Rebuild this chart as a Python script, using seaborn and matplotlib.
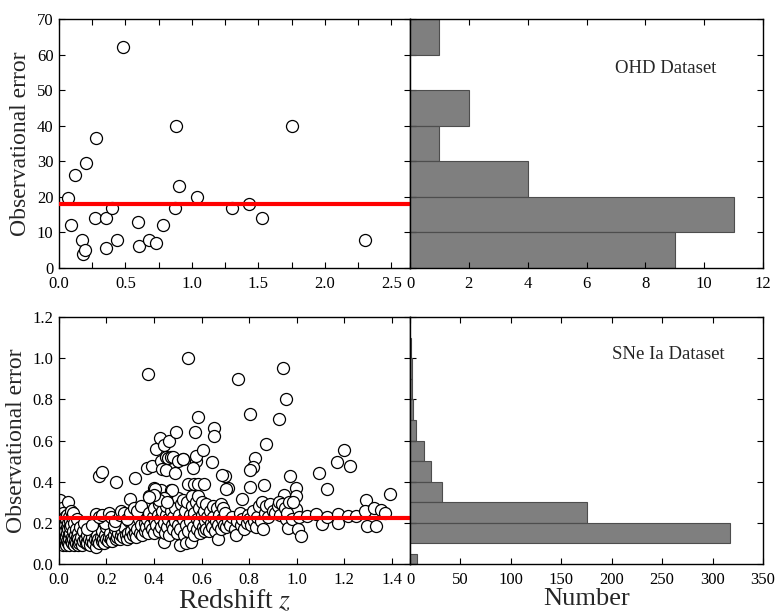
import numpy as np
import pandas as pd
import matplotlib
matplotlib.use("Agg")
import matplotlib.pyplot as plt
import seaborn as sns
from matplotlib.ticker import MultipleLocator, FormatStrFormatter

# ---------------- OHD (Hubble parameter) measurements ----------------
ohd_z = [0.07, 0.09, 0.12, 0.17, 0.179, 0.199, 0.20, 0.27, 0.28, 0.35,
         0.352, 0.40, 0.44, 0.48, 0.593, 0.60, 0.68, 0.73, 0.781, 0.875,
         0.88, 0.90, 1.037, 1.30, 1.43, 1.53, 1.75, 2.30]
ohd_err = [19.6, 12.0, 26.2, 8.0, 4.0, 5.0, 29.6, 14.0, 36.6, 5.5,
           14.0, 17.0, 7.8, 62.0, 13.0, 6.1, 8.0, 7.0, 12.0, 17.0,
           40.0, 23.0, 20.0, 17.0, 18.0, 14.0, 40.0, 8.0]
ohd_bins = [0, 10, 20, 30, 40, 50, 60, 70]

# ---------------- SNe Ia (redshift, distance-modulus error) ----------------
sn_nearby = [
    (0.004, 0.31), (0.006, 0.24), (0.008, 0.20), (0.009, 0.16), (0.010, 0.13),
    (0.011, 0.10), (0.012, 0.27), (0.013, 0.22), (0.014, 0.18), (0.015, 0.15),
    (0.016, 0.12), (0.017, 0.09), (0.018, 0.25), (0.020, 0.21), (0.021, 0.17),
    (0.022, 0.14), (0.023, 0.11), (0.024, 0.23), (0.025, 0.19), (0.026, 0.12),
    (0.027, 0.16), (0.028, 0.09), (0.030, 0.22), (0.031, 0.13), (0.032, 0.18),
    (0.033, 0.24), (0.034, 0.11), (0.035, 0.15), (0.036, 0.20), (0.037, 0.10),
    (0.038, 0.17), (0.040, 0.30), (0.041, 0.14), (0.042, 0.12), (0.043, 0.23),
    (0.044, 0.09), (0.046, 0.21), (0.047, 0.15), (0.048, 0.18), (0.050, 0.11),
    (0.051, 0.26), (0.052, 0.19), (0.053, 0.13), (0.055, 0.23), (0.056, 0.10),
    (0.058, 0.16), (0.060, 0.12), (0.061, 0.25), (0.062, 0.09), (0.064, 0.20),
    (0.066, 0.14), (0.068, 0.11), (0.070, 0.17), (0.072, 0.10), (0.074, 0.13),
    (0.076, 0.22), (0.078, 0.09), (0.080, 0.15), (0.082, 0.12), (0.085, 0.10),
    (0.088, 0.18), (0.090, 0.11), (0.093, 0.13), (0.096, 0.09), (0.100, 0.16),
    (0.103, 0.11), (0.106, 0.20), (0.110, 0.12), (0.115, 0.10), (0.118, 0.14),
]
sn_sdss = [
    (0.120, 0.10), (0.125, 0.12), (0.130, 0.09), (0.135, 0.11), (0.140, 0.13),
    (0.145, 0.10), (0.150, 0.12), (0.155, 0.085), (0.160, 0.11), (0.160, 0.14),
    (0.165, 0.12), (0.170, 0.10), (0.175, 0.13), (0.180, 0.11), (0.180, 0.16),
    (0.185, 0.12), (0.190, 0.10), (0.195, 0.14), (0.200, 0.12), (0.200, 0.18),
    (0.205, 0.11), (0.210, 0.13), (0.215, 0.15), (0.220, 0.12), (0.225, 0.11),
    (0.230, 0.14), (0.235, 0.17), (0.240, 0.12), (0.245, 0.13), (0.250, 0.15),
    (0.250, 0.20), (0.255, 0.12), (0.260, 0.14), (0.265, 0.16), (0.270, 0.13),
    (0.275, 0.18), (0.280, 0.14), (0.285, 0.12), (0.290, 0.15), (0.295, 0.21),
    (0.300, 0.13), (0.305, 0.16), (0.310, 0.14), (0.315, 0.19), (0.320, 0.15),
    (0.325, 0.13), (0.330, 0.17), (0.335, 0.22), (0.340, 0.15), (0.345, 0.19),
    (0.350, 0.14), (0.355, 0.24), (0.360, 0.16),
    (0.120, 0.17), (0.140, 0.19), (0.164, 0.237), (0.195, 0.20), (0.206, 0.245),
    (0.230, 0.19), (0.157, 0.242), (0.170, 0.23), (0.180, 0.24), (0.210, 0.25),
    (0.220, 0.23), (0.235, 0.21), (0.255, 0.24), (0.260, 0.26), (0.275, 0.25),
    (0.285, 0.22), (0.298, 0.315), (0.300, 0.25), (0.315, 0.27), (0.330, 0.26),
    (0.345, 0.28), (0.170, 0.43), (0.180, 0.445), (0.240, 0.40), (0.320, 0.42),
]
sn_mid = [
    (0.360, 0.20), (0.365, 0.18), (0.370, 0.22), (0.375, 0.15), (0.380, 0.25),
    (0.380, 0.33), (0.385, 0.19), (0.390, 0.17), (0.395, 0.23), (0.400, 0.15),
    (0.400, 0.27), (0.400, 0.37), (0.405, 0.21), (0.410, 0.19), (0.410, 0.34),
    (0.415, 0.24), (0.420, 0.16), (0.420, 0.29), (0.425, 0.22), (0.430, 0.18),
    (0.430, 0.36), (0.435, 0.26), (0.440, 0.105), (0.440, 0.20), (0.440, 0.32),
    (0.445, 0.15), (0.450, 0.24), (0.450, 0.28), (0.455, 0.18), (0.460, 0.22),
    (0.460, 0.31), (0.465, 0.14), (0.470, 0.26), (0.470, 0.36), (0.475, 0.19),
    (0.480, 0.17), (0.480, 0.23), (0.485, 0.30), (0.490, 0.21), (0.490, 0.27),
    (0.495, 0.15), (0.500, 0.19), (0.500, 0.32), (0.505, 0.24), (0.510, 0.09),
    (0.510, 0.17), (0.515, 0.29), (0.520, 0.22), (0.520, 0.31), (0.525, 0.14),
    (0.530, 0.26), (0.535, 0.10), (0.535, 0.19), (0.540, 0.30), (0.545, 0.16),
    (0.550, 0.24), (0.550, 0.21), (0.555, 0.105), (0.560, 0.28), (0.560, 0.33),
    (0.565, 0.18), (0.570, 0.14), (0.570, 0.25), (0.575, 0.30), (0.580, 0.17),
    (0.580, 0.22), (0.585, 0.33), (0.590, 0.20), (0.590, 0.27), (0.595, 0.15),
    (0.600, 0.24), (0.600, 0.30), (0.605, 0.18), (0.610, 0.16), (0.610, 0.26),
    (0.615, 0.21), (0.620, 0.29), (0.620, 0.17), (0.625, 0.23), (0.630, 0.16),
    (0.635, 0.26), (0.640, 0.20), (0.645, 0.18), (0.650, 0.28), (0.650, 0.23),
    (0.655, 0.16), (0.660, 0.21), (0.665, 0.27), (0.670, 0.12), (0.670, 0.19),
    (0.675, 0.24), (0.680, 0.29), (0.680, 0.17), (0.685, 0.22), (0.690, 0.27),
    (0.695, 0.19), (0.700, 0.25), (0.705, 0.18), (0.710, 0.21), (0.710, 0.37),
    (0.700, 0.43),
    (0.373, 0.922), (0.545, 1.003), (0.370, 0.465), (0.390, 0.475), (0.405, 0.365),
    (0.410, 0.56), (0.424, 0.611), (0.430, 0.50), (0.435, 0.46), (0.440, 0.58),
    (0.450, 0.455), (0.450, 0.52), (0.460, 0.515), (0.463, 0.599), (0.470, 0.52),
    (0.475, 0.36), (0.480, 0.52), (0.490, 0.44), (0.493, 0.640), (0.500, 0.50),
    (0.520, 0.51), (0.443, 0.32), (0.423, 0.31), (0.455, 0.30), (0.545, 0.39),
    (0.570, 0.39), (0.573, 0.641), (0.577, 0.50), (0.578, 0.523), (0.585, 0.39),
    (0.587, 0.716), (0.606, 0.552), (0.610, 0.39), (0.646, 0.494), (0.653, 0.659),
    (0.653, 0.624), (0.564, 0.468), (0.520, 0.508), (0.688, 0.431), (0.702, 0.363),
    (0.400, 0.335), (0.380, 0.325),
]
sn_high = [
    (0.755, 0.897), (0.806, 0.727), (0.926, 0.703), (0.942, 0.952), (0.957, 0.803),
    (0.870, 0.581), (0.824, 0.516), (0.817, 0.471), (0.803, 0.455), (0.803, 0.374),
    (0.863, 0.386), (0.772, 0.318), (0.973, 0.430), (0.997, 0.371), (0.998, 0.329),
    (0.949, 0.337), (0.967, 0.290), (0.997, 0.265),
    (0.720, 0.19), (0.730, 0.23), (0.740, 0.17), (0.745, 0.14), (0.750, 0.21),
    (0.760, 0.25), (0.765, 0.19), (0.770, 0.22), (0.780, 0.17), (0.790, 0.20),
    (0.795, 0.24), (0.800, 0.22), (0.810, 0.19), (0.815, 0.26), (0.820, 0.21),
    (0.830, 0.18), (0.835, 0.23), (0.840, 0.28), (0.850, 0.21), (0.855, 0.30),
    (0.860, 0.17), (0.865, 0.25), (0.870, 0.28), (0.880, 0.23), (0.890, 0.29),
    (0.900, 0.26), (0.910, 0.25), (0.920, 0.28), (0.925, 0.30), (0.930, 0.24),
    (0.940, 0.29), (0.950, 0.27), (0.955, 0.22), (0.960, 0.25), (0.963, 0.173),
    (0.970, 0.30), (0.980, 0.22), (0.985, 0.30),
]
sn_far = [
    (1.005, 0.168), (1.018, 0.137), (1.009, 0.229), (1.044, 0.235), (1.081, 0.242),
    (1.109, 0.194), (1.128, 0.226), (1.126, 0.363), (1.095, 0.444), (1.172, 0.497),
    (1.200, 0.556), (1.225, 0.476), (1.175, 0.245), (1.176, 0.197), (1.216, 0.232),
    (1.251, 0.232), (1.291, 0.310), (1.288, 0.256), (1.297, 0.184), (1.334, 0.184),
    (1.325, 0.272), (1.354, 0.261), (1.373, 0.248), (1.395, 0.342),
]

# Binned error counts of the full SNe Ia compilation
sn_err_bin_edges = [0.0, 0.05, 0.1, 0.2, 0.3, 0.4, 0.5, 0.6, 0.7, 0.8, 0.9, 1.0, 1.1]
sn_err_counts = [7, 0, 317, 175, 32, 21, 14, 6, 3, 2, 2, 1]
sn_mean_err = 0.223

sn_points = sn_nearby + sn_sdss + sn_mid + sn_high + sn_far
sn = pd.DataFrame(sn_points, columns=["z", "err"])
ohd = pd.DataFrame({"z": ohd_z, "err": ohd_err})

edges = np.array(sn_err_bin_edges)
sn_hist = pd.DataFrame({"mid": 0.5 * (edges[:-1] + edges[1:]),
                        "count": sn_err_counts})

# ---------------- style ----------------
sns.set_style("ticks", {"xtick.direction": "in", "ytick.direction": "in"})
plt.rcParams.update({
    "font.family": ["Liberation Serif", "DejaVu Serif"],
    "mathtext.fontset": "stix",
    "axes.linewidth": 1.0,
    "axes.edgecolor": "black",
    "xtick.color": "black",
    "ytick.color": "black",
    "xtick.labelsize": 12,
    "ytick.labelsize": 12,
})

fig = plt.figure(figsize=(7.77, 6.14), dpi=100)
L, W1, R, W2 = 0.0759, 0.4517, 0.5277, 0.4543
ax1 = fig.add_axes([L, 0.5635, W1, 0.4055])
ax2 = fig.add_axes([R, 0.5635, W2, 0.4055], sharey=ax1)
ax3 = fig.add_axes([L, 0.0814, W1, 0.4023])
ax4 = fig.add_axes([R, 0.0814, W2, 0.4023], sharey=ax3)

marker_kw = dict(s=75, color="white", edgecolor="black", linewidth=0.9,
                 legend=False, zorder=2)
hist_kw = dict(color="black", alpha=0.5, edgecolor="0.3", linewidth=0.8)

# ---- OHD panel ----
sns.scatterplot(data=ohd, x="z", y="err", ax=ax1, **marker_kw)
ax1.axhline(np.mean(ohd_err), color="red", lw=3, zorder=3)
ax1.set_xlim(0, 2.64)
ax1.set_ylim(0, 70)
ax1.xaxis.set_major_locator(MultipleLocator(0.5))
ax1.xaxis.set_minor_locator(MultipleLocator(0.25))
ax1.yaxis.set_major_locator(MultipleLocator(10))
ax1.set_xlabel("")
ax1.set_ylabel("Observational error", fontsize=17)

sns.histplot(y=ohd_err, bins=ohd_bins, ax=ax2, **hist_kw)
ax2.set_xlim(0, 12)
ax2.xaxis.set_major_locator(MultipleLocator(2))
ax2.set_xlabel("")
ax2.set_ylabel("")
ax2.text(8.7, 56, "OHD Dataset", ha="center", va="center", fontsize=13.5)

# ---- SNe Ia panel ----
sns.scatterplot(data=sn, x="z", y="err", ax=ax3, **marker_kw)
ax3.axhline(sn_mean_err, color="red", lw=3, zorder=3)
ax3.set_xlim(0, 1.477)
ax3.set_ylim(0, 1.2)
ax3.xaxis.set_major_locator(MultipleLocator(0.2))
ax3.yaxis.set_major_locator(MultipleLocator(0.2))
ax3.set_xlabel("Redshift $z$", fontsize=20, labelpad=0)
ax3.set_ylabel("Observational error", fontsize=17)

sns.histplot(data=sn_hist, y="mid", weights="count", bins=sn_err_bin_edges,
             ax=ax4, **hist_kw)
ax4.set_xlim(0, 350)
ax4.xaxis.set_major_locator(MultipleLocator(50))
ax4.set_xlabel("Number", fontsize=19, labelpad=0)
ax4.set_ylabel("")
ax4.text(256, 1.02, "SNe Ia Dataset", ha="center", va="center", fontsize=13.5)

for ax in (ax1, ax2, ax3, ax4):
    ax.tick_params(which="both", direction="in", top=True, right=True,
                   length=4.5, width=0.8)
    ax.tick_params(axis="x", which="both", pad=6)
    ax.tick_params(axis="y", which="both", pad=4)
    for sp in ax.spines.values():
        sp.set_visible(True)
        sp.set_color("black")
        sp.set_linewidth(1.0)

for ax in (ax1, ax3):
    ax.xaxis.set_major_formatter(FormatStrFormatter("%.1f"))
ax1.yaxis.set_major_formatter(FormatStrFormatter("%d"))
ax3.yaxis.set_major_formatter(FormatStrFormatter("%.1f"))
for ax in (ax2, ax4):
    ax.xaxis.set_major_formatter(FormatStrFormatter("%d"))
    ax.tick_params(labelleft=False)

fig.savefig("out.png", dpi=100)
